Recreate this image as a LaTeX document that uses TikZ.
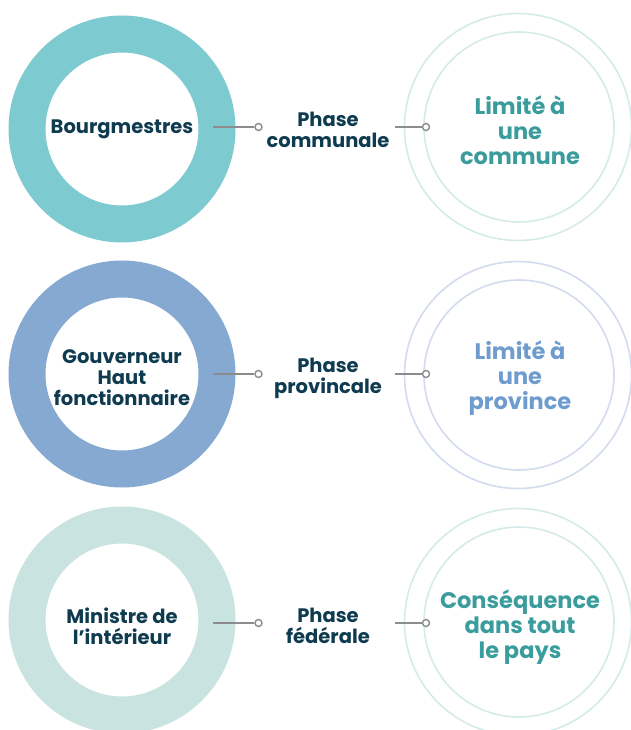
\documentclass[tikz,border=0pt]{standalone}
\usepackage{fontspec}
\setmainfont{Poppins}
\begin{document}
\begin{tikzpicture}[x=1pt,y=-1pt,
  ring/.style={circle,draw=#1,line width=37pt,minimum size=190pt,inner sep=0pt,
    text=navy,align=center,font=\bfseries\fontsize{19.5}{21}\selectfont},
  halo/.style={circle,draw=#1,line width=1.6pt,minimum size=227pt,inner sep=0pt},
  core/.style={circle,draw=#1,line width=1.6pt,minimum size=190pt,inner sep=0pt,
    align=center,font=\bfseries\fontsize{22.5}{25}\selectfont},
  phase/.style={align=center,text=navy,font=\bfseries\fontsize{19.5}{21}\selectfont},
  dot/.style={circle,draw=linkgray,fill=white,line width=1.4pt,minimum size=7pt,inner sep=0pt},
  link/.style={draw=linkgray,line width=1.4pt}]
\definecolor{navy}{HTML}{0E3B4F}
\definecolor{linkgray}{HTML}{8C8C8C}
\definecolor{tealring}{HTML}{7DCBD0}
\definecolor{bluering}{HTML}{86A9D1}
\definecolor{paleRing}{HTML}{C9E3E1}
\definecolor{tealline}{HTML}{D4EBE9}
\definecolor{blueline}{HTML}{D3DCEE}
\definecolor{tealtext}{HTML}{3A9C9C}
\definecolor{bluetext}{HTML}{6F9CCF}
\useasboundingbox (0,0) rectangle (630,730);
\fill[white] (0,0) rectangle (630,730);

% row 1: communal phase
\node[ring=tealring] (actor1) at (122,129) {Bourgmestres};
\node[halo=tealline] (outer1) at (518,127) {};
\node[core=tealline,text=tealtext] (scope1) at (519,127) {};
\node[phase] (phase1) at (328,130) {Phase\\communale};
\node[align=center,text=tealtext,font=\bfseries\fontsize{22.5}{25}\selectfont] (text1) at (520,130) {Limité à\\une\\commune};
\coordinate (from1) at (213,127);
\node[dot] (dotA1) at (258.5,127) {};
\coordinate (to1) at (395,127);
\node[dot] (dotB1) at (426,127) {};
\draw[link] (from1) -- (dotA1.west);
\draw[link] (to1) -- (dotB1.west);

% row 2: provincial phase
\node[ring=bluering] (actor2) at (122,374) {};
\node[align=center,text=navy,font=\bfseries\fontsize{19.5}{21}\selectfont] (who2) at (122,378) {Gouverneur\\Haut\\fonctionnaire};
\node[halo=blueline] (outer2) at (518,375) {};
\node[core=blueline] (scope2) at (519,375) {};
\node[phase] (phase2) at (328,378) {Phase\\provincale};
\node[align=center,text=bluetext,font=\bfseries\fontsize{22.5}{25}\selectfont] (text2) at (520,378) {Limité à\\une\\province};
\coordinate (from2) at (213,374);
\node[dot] (dotA2) at (258.5,374) {};
\coordinate (to2) at (395,374);
\node[dot] (dotB2) at (426,374) {};
\draw[link] (from2) -- (dotA2.west);
\draw[link] (to2) -- (dotB2.west);

% row 3: federal phase
\node[ring=paleRing] (actor3) at (122,620) {};
\node[align=center,text=navy,font=\bfseries\fontsize{19.5}{21}\selectfont] (who3) at (122,626) {Ministre de\\l’intérieur};
\node[halo=tealline] (outer3) at (518,622) {};
\node[core=tealline] (scope3) at (519,622) {};
\node[phase] (phase3) at (328,626) {Phase\\fédérale};
\node[align=center,text=tealtext,font=\bfseries\fontsize{22.5}{25}\selectfont] (text3) at (520,627) {Conséquence\\dans tout\\le pays};
\coordinate (from3) at (213,623);
\node[dot] (dotA3) at (258.5,623) {};
\coordinate (to3) at (395,623);
\node[dot] (dotB3) at (426,623) {};
\draw[link] (from3) -- (dotA3.west);
\draw[link] (to3) -- (dotB3.west);
\end{tikzpicture}
\end{document}
